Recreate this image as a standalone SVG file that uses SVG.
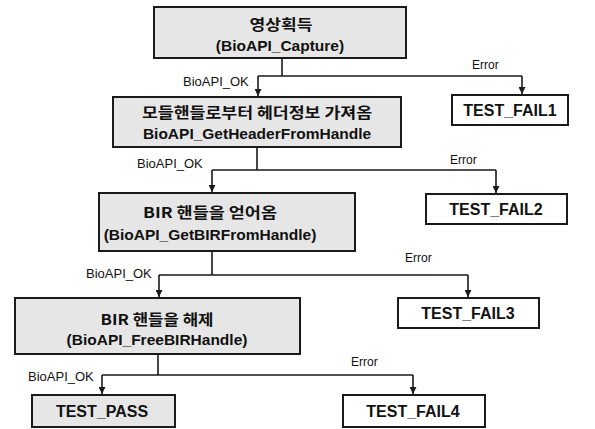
<svg xmlns="http://www.w3.org/2000/svg" width="595" height="429" viewBox="0 0 595 429">
<style>
.box{stroke:#1a1a1a;stroke-width:2}
.sh{fill:#e6e6e6}
.wh{fill:#ffffff}
.t{font-family:"Liberation Sans","Noto Sans CJK KR",sans-serif;font-weight:bold;font-size:15.5px;fill:#111;text-anchor:middle}
.k{font-family:"Noto Sans CJK KR","Liberation Sans",sans-serif;font-weight:bold;font-size:15px;fill:#111;text-anchor:middle}
.f{font-family:"Liberation Sans",sans-serif;font-weight:bold;font-size:16px;fill:#111;text-anchor:middle}
.lb{font-family:"Liberation Sans",sans-serif;font-size:13px;fill:#111}
.er{font-family:"Liberation Sans",sans-serif;font-size:12px;fill:#111}
.c{fill:none;stroke:#1a1a1a;stroke-width:1.6}
</style>
<defs>
<marker id="ad" viewBox="0 0 8 8" refX="4" refY="8" markerWidth="7" markerHeight="8" markerUnits="userSpaceOnUse" orient="0">
<path d="M0,0 L8,0 L4,8 Z" fill="#1a1a1a"/>
</marker>
</defs>
<rect width="595" height="429" fill="#ffffff"/>

<g id="connectors">
<path class="c" d="M282,58 V76 M258,76 H522"/>
<path class="c" d="M258,76 V96" marker-end="url(#ad)"/>
<path class="c" d="M522,76 V94" marker-end="url(#ad)"/>
<path class="c" d="M257,147 V170 M212,170 H496"/>
<path class="c" d="M212,170 V192" marker-end="url(#ad)"/>
<path class="c" d="M496,170 V193" marker-end="url(#ad)"/>
<path class="c" d="M212,251 V275 M159,275 H468"/>
<path class="c" d="M159,275 V297" marker-end="url(#ad)"/>
<path class="c" d="M468,275 V297" marker-end="url(#ad)"/>
<path class="c" d="M158,354 V375 M102,375 H413"/>
<path class="c" d="M102,375 V394" marker-end="url(#ad)"/>
<path class="c" d="M413,375 V394" marker-end="url(#ad)"/>
<text class="lb" x="183" y="86">BioAPI_OK</text>
<text class="lb" x="137" y="168">BioAPI_OK</text>
<text class="lb" x="86" y="278">BioAPI_OK</text>
<text class="lb" x="28" y="381">BioAPI_OK</text>
<text class="er" x="472" y="69">Error</text>
<text class="er" x="450" y="164">Error</text>
<text class="er" x="405" y="262">Error</text>
<text class="er" x="351" y="366">Error</text>
</g>

<g id="capture">
<rect class="box sh" x="154" y="7" width="252" height="51"/>
<text class="k" x="281" y="30" textLength="63" lengthAdjust="spacingAndGlyphs">영상획득</text>
<text class="t" x="280" y="51">(BioAPI_Capture)</text>
</g>

<g id="getheader">
<rect class="box sh" x="113" y="97" width="288" height="50"/>
<text class="k" x="257" y="118" textLength="230" lengthAdjust="spacingAndGlyphs">모들핸들로부터 헤더정보 가져옴</text>
<text class="t" x="257" y="139">BioAPI_GetHeaderFromHandle</text>
</g>

<g id="getbir">
<rect class="box sh" x="99" y="193" width="256" height="58"/>
<text class="k" x="210" y="218" textLength="134" lengthAdjust="spacingAndGlyphs">BIR 핸들을 얻어옴</text>
<text class="t" x="210" y="240">(BioAPI_GetBIRFromHandle)</text>
</g>

<g id="freebir">
<rect class="box sh" x="15" y="298" width="285" height="56"/>
<text class="k" x="157" y="325" textLength="113" lengthAdjust="spacingAndGlyphs">BIR 핸들을 해제</text>
<text class="t" x="157" y="345">(BioAPI_FreeBIRHandle)</text>
</g>

<g id="fail1">
<rect class="box wh" x="452" y="95" width="116" height="30"/>
<text class="f" x="510" y="116">TEST_FAIL1</text>
</g>

<g id="fail2">
<rect class="box wh" x="426" y="194" width="141" height="30"/>
<text class="f" x="496" y="215">TEST_FAIL2</text>
</g>

<g id="fail3">
<rect class="box wh" x="398" y="298" width="141" height="30"/>
<text class="f" x="468" y="319">TEST_FAIL3</text>
</g>

<g id="pass">
<rect class="box sh" x="32" y="395" width="143" height="32"/>
<text class="f" x="102" y="417">TEST_PASS</text>
</g>

<g id="fail4">
<rect class="box wh" x="343" y="395" width="142" height="32"/>
<text class="f" x="413" y="417">TEST_FAIL4</text>
</g>
</svg>
